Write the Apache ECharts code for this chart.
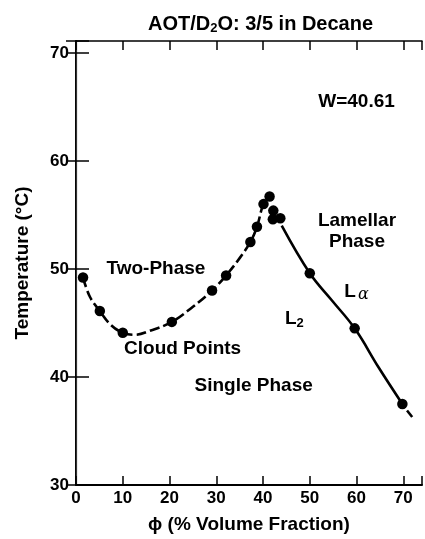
<!DOCTYPE html>
<html>
<head>
<meta charset="utf-8">
<script src="https://cdn.jsdelivr.net/npm/echarts@6/dist/echarts.min.js"></script>
<style>
  html, body { margin: 0; padding: 0; background: #fff; }
  #chart { width: 425px; height: 539px; }
</style>
</head>
<body>
<div id="chart"></div>
<script>
// Cloud-point measurements: volume fraction (%) and temperature (°C)
const phi = [1.5, 5.1, 10.0, 20.5, 29.1, 32.1, 37.3, 38.7, 40.1, 41.4, 42.2, 42.1, 43.7, 50.0, 59.6, 69.8];
const temperature = [49.2, 46.1, 44.1, 45.1, 48.0, 49.4, 52.5, 53.9, 56.0, 56.7, 55.4, 54.6, 54.7, 49.6, 44.5, 37.5];

// Hand-traced phase boundaries
const cloudCurvePhi = [1.5, 3.0, 5.1, 7.5, 10.0, 12.5, 16.0, 20.5, 25.0, 29.1, 32.1, 35.0, 37.3, 38.7, 40.1, 41.4];
const cloudCurveT = [49.2, 47.4, 46.1, 44.8, 44.1, 43.9, 44.3, 45.1, 46.5, 48.0, 49.4, 51.0, 52.5, 53.9, 56.0, 56.7];
const lamellarCurvePhi = [44.0, 50.0, 54.7, 59.6, 64.7, 69.8];
const lamellarCurveT = [54.0, 49.6, 47.1, 44.5, 40.9, 37.5];
const tailPhi = [70.8, 71.9];
const tailT = [36.9, 36.3];

// Axis ticks
const xTicks = [0, 10, 20, 30, 40, 50, 60, 70];
const yTicks = [30, 40, 50, 60, 70];

// Region labels: [phi, T, text]
const regionLabels = [
  [17.1, 50.0, 'Two-Phase'],
  [22.8, 42.6, 'Cloud Points'],
  [60.1, 53.5, 'Lamellar\nPhase'],
  [38.0, 39.2, 'Single Phase'],
  [60.0, 65.5, 'W=40.61']
];
const symbolLabels = [
  [60.0, 47.9, '{m|L}{it|α}'],
  [46.7, 45.4, '{m|L}{sub|2}']
];

const FONT = '"Liberation Sans", Arial, Helvetica, sans-serif';
const INK = '#000';

const zip = (a, b) => a.map((v, i) => [v, b[i]]);

const chart = echarts.init(document.getElementById('chart'), null, { renderer: 'canvas' });

const tickFmt = list => v => (list.indexOf(Math.round(v * 1000) / 1000) >= 0 ? String(v) : '');

const option = {
  animation: false,
  backgroundColor: '#fff',
  title: {
    text: '{m|AOT/D}{sub|2}{m|O: 3/5 in Decane}',
    left: 143,
    top: 8,
    textStyle: {
      rich: {
        m: { fontFamily: FONT, fontWeight: 'bold', fontSize: 20, color: INK, lineHeight: 22 },
        sub: { fontFamily: FONT, fontWeight: 'bold', fontSize: 13, color: INK, lineHeight: 12, verticalAlign: 'bottom' }
      }
    }
  },
  grid: { left: 76, right: 3, top: 41, bottom: 48, containLabel: false },
  xAxis: [
    {
      type: 'value', min: 0, max: 74, interval: 10, position: 'bottom',
      name: 'ϕ (% Volume Fraction)', nameLocation: 'middle', nameGap: 30,
      nameTextStyle: { fontFamily: FONT, fontWeight: 'bold', fontSize: 19, color: INK },
      axisLine: { lineStyle: { color: INK, width: 2 } },
      axisTick: { inside: true, length: 9, lineStyle: { color: INK, width: 1.5 } },
      axisLabel: { margin: 5, fontFamily: FONT, fontWeight: 'bold', fontSize: 17, color: INK, formatter: tickFmt(xTicks) },
      splitLine: { show: false }
    },
    {
      type: 'value', min: 0, max: 74, interval: 10, position: 'top',
      axisLine: { lineStyle: { color: INK, width: 1.5 } },
      axisTick: { inside: true, length: 9, lineStyle: { color: INK, width: 1.5 } },
      axisLabel: { show: false },
      splitLine: { show: false }
    }
  ],
  yAxis: [
    {
      type: 'value', min: 30, max: 71.1, interval: 10, position: 'left',
      name: 'Temperature (°C)', nameLocation: 'middle', nameGap: 44,
      nameTextStyle: { fontFamily: FONT, fontWeight: 'bold', fontSize: 19, color: INK },
      axisLine: { lineStyle: { color: INK, width: 2 } },
      axisTick: { inside: true, length: 13, lineStyle: { color: INK, width: 1.5 } },
      axisLabel: { margin: 7, fontFamily: FONT, fontWeight: 'bold', fontSize: 17, color: INK, formatter: tickFmt(yTicks) },
      splitLine: { show: false }
    },
    {
      type: 'value', min: 30, max: 71.1, interval: 10, position: 'right',
      axisLine: { lineStyle: { color: '#333', width: 1.2 } },
      axisTick: { inside: true, length: 10, lineStyle: { color: INK, width: 1.5 } },
      axisLabel: { show: false },
      splitLine: { show: false }
    }
  ],
  series: [
    {
      name: 'cloud boundary', type: 'line', smooth: 0.4, showSymbol: false,
      data: zip(cloudCurvePhi, cloudCurveT),
      lineStyle: { color: INK, width: 2.6, type: [10, 4] }, z: 2
    },
    {
      name: 'lamellar boundary', type: 'line', smooth: 0.4, showSymbol: false,
      data: zip(lamellarCurvePhi, lamellarCurveT),
      lineStyle: { color: INK, width: 2.6 }, z: 2
    },
    {
      name: 'tail', type: 'line', showSymbol: false,
      data: zip(tailPhi, tailT),
      lineStyle: { color: INK, width: 2.6 }, z: 2
    },
    {
      name: 'cloud points', type: 'scatter', symbol: 'circle', symbolSize: 10.5,
      data: zip(phi, temperature),
      itemStyle: { color: INK, opacity: 1 }, z: 3
    },
    {
      name: 'region labels', type: 'scatter', symbolSize: 0, silent: true,
      data: regionLabels.map(r => ({ value: [r[0], r[1]], name: r[2] })),
      itemStyle: { opacity: 1 },
      label: {
        show: true, position: 'inside', formatter: p => p.name,
        fontFamily: FONT, fontWeight: 'bold', fontSize: 19, lineHeight: 21, color: INK, align: 'center', opacity: 1
      }, z: 4
    },
    {
      name: 'phase symbols', type: 'scatter', symbolSize: 0, silent: true,
      data: symbolLabels.map(r => ({ value: [r[0], r[1]], name: r[2] })),
      itemStyle: { opacity: 1 },
      label: {
        show: true, position: 'inside', formatter: p => p.name, opacity: 1,
        rich: {
          m: { fontFamily: FONT, fontWeight: 'bold', fontSize: 19, color: INK, lineHeight: 22 },
          it: { fontFamily: '"DejaVu Serif", "Liberation Serif", serif', fontStyle: 'italic', fontSize: 16, color: INK, lineHeight: 10, verticalAlign: 'bottom', padding: [0, 0, 0, 2] },
          sub: { fontFamily: FONT, fontWeight: 'bold', fontSize: 13, color: INK, lineHeight: 10, verticalAlign: 'bottom' }
        }
      }, z: 4
    }
  ]
};

chart.setOption(option);
</script>
</body>
</html>
